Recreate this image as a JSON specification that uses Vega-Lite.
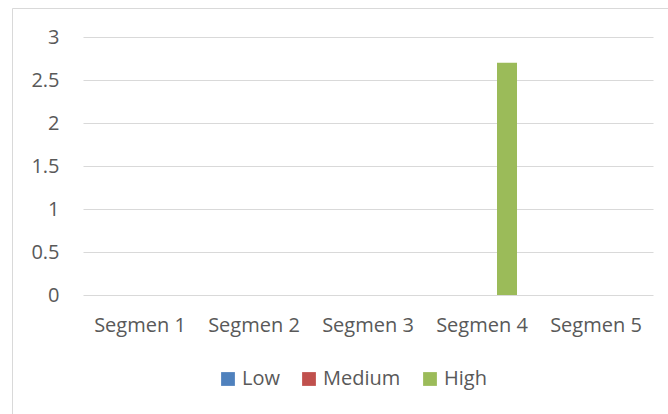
{
  "$schema": "https://vega.github.io/schema/vega-lite/v6.json",
  "width": 570,
  "height": 258,
  "autosize": {"type": "none"},
  "padding": {"left": 83, "top": 37, "right": 15, "bottom": 119},
  "background": "white",
  "config": {
    "view": {"stroke": null},
    "font": "Open Sans",
    "axis": {"labelFont": "Open Sans", "labelColor": "#595959", "labelFontSize": 20}
  },
  "data": {
    "values": [
      {"segment": "Segmen 1", "level": "Low", "value": 0},
      {"segment": "Segmen 1", "level": "Medium", "value": 0},
      {"segment": "Segmen 1", "level": "High", "value": 0},
      {"segment": "Segmen 2", "level": "Low", "value": 0},
      {"segment": "Segmen 2", "level": "Medium", "value": 0},
      {"segment": "Segmen 2", "level": "High", "value": 0},
      {"segment": "Segmen 3", "level": "Low", "value": 0},
      {"segment": "Segmen 3", "level": "Medium", "value": 0},
      {"segment": "Segmen 3", "level": "High", "value": 0},
      {"segment": "Segmen 4", "level": "Low", "value": 0},
      {"segment": "Segmen 4", "level": "Medium", "value": 0},
      {"segment": "Segmen 4", "level": "High", "value": 2.7},
      {"segment": "Segmen 5", "level": "Low", "value": 0},
      {"segment": "Segmen 5", "level": "Medium", "value": 0},
      {"segment": "Segmen 5", "level": "High", "value": 0}
    ]
  },
  "mark": {"type": "bar"},
  "encoding": {
    "x": {
      "field": "segment",
      "type": "nominal",
      "sort": null,
      "scale": {"paddingInner": 0, "paddingOuter": 0},
      "axis": {"title": null, "labelAngle": 0, "domain": false, "ticks": false, "tickSize": 0, "labelPadding": 20}
    },
    "xOffset": {
      "field": "level",
      "type": "nominal",
      "sort": ["Low", "Medium", "High"],
      "scale": {"paddingInner": 0.2, "paddingOuter": 0.88}
    },
    "y": {
      "field": "value",
      "type": "quantitative",
      "scale": {"domain": [0, 3], "nice": false},
      "axis": {
        "title": null,
        "values": [0, 0.5, 1, 1.5, 2, 2.5, 3],
        "format": "~g",
        "domain": false,
        "ticks": false,
        "tickSize": 0,
        "labelPadding": 24,
        "gridColor": "#D9D9D9",
        "gridWidth": 1
      }
    },
    "color": {
      "field": "level",
      "type": "nominal",
      "scale": {"domain": ["Low", "Medium", "High"], "range": ["#4F81BD", "#C0504D", "#9BBB59"]},
      "legend": {
        "title": " ",
        "titleFontSize": 40,
        "titlePadding": 115,
        "orient": "none",
        "legendX": -71,
        "legendY": -29,
        "padding": 206,
        "strokeColor": "#D9D9D9",
        "direction": "horizontal",
        "gridAlign": "none",
        "symbolType": "square",
        "symbolSize": 190,
        "symbolStrokeWidth": 0,
        "labelFont": "Open Sans",
        "labelFontSize": 20,
        "labelColor": "#595959",
        "labelOffset": 4,
        "columnPadding": 19
      }
    }
  }
}
